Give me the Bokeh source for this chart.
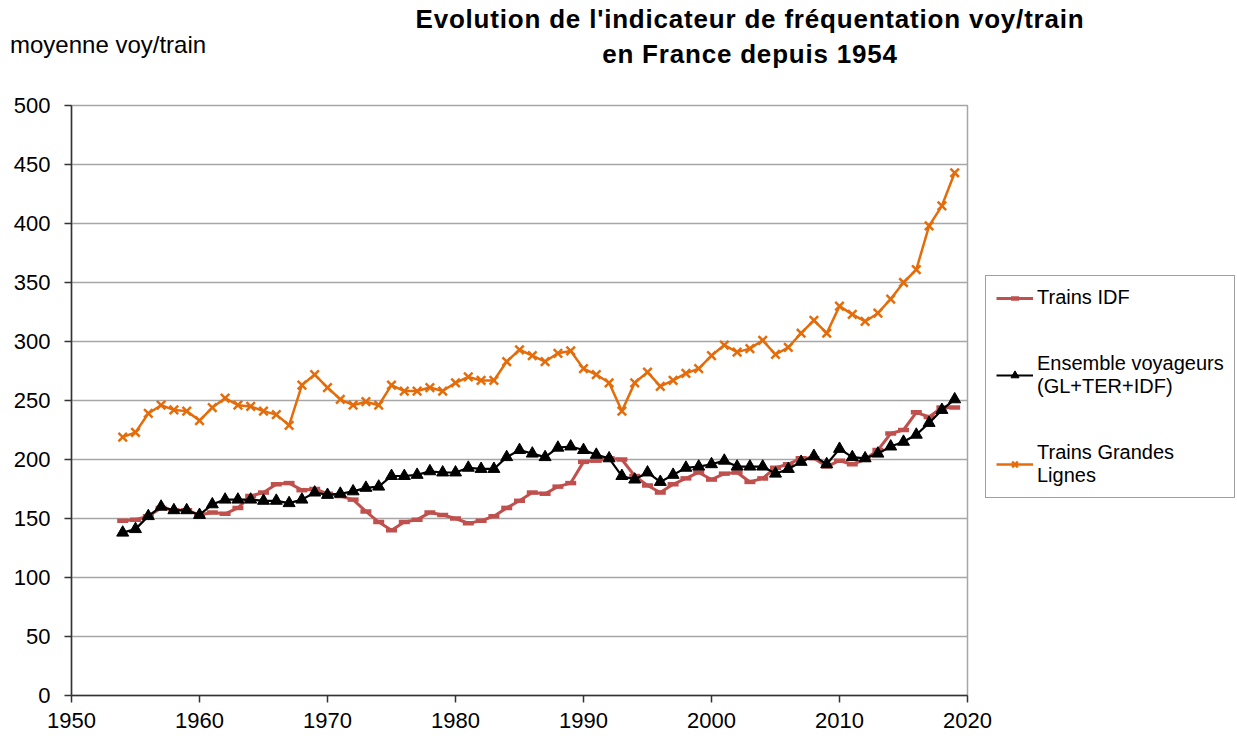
from bokeh.plotting import figure
from bokeh.models import Legend, LegendItem, FixedTicker, Range1d, Div
from bokeh.layouts import column
from bokeh.embed import file_html
from bokeh.resources import INLINE

years = list(range(1954, 2020))

trains_idf = [148, 149, 152, 159, 157, 157, 153, 155, 154, 159,
              169, 172, 179, 180, 174, 175, 171, 169, 166, 156,
              147, 140, 147, 149, 155, 153, 150, 146, 148, 152,
              159, 165, 172, 171, 177, 180, 198, 199, 201, 200,
              186, 178, 172, 179, 184, 189, 183, 188, 189, 181,
              184, 193, 196, 201, 201, 194, 199, 196, 200, 208,
              222, 225, 240, 236, 244, 244]

ensemble = [138, 141, 152, 160, 157, 157, 153, 162, 166, 166,
            166, 165, 165, 163, 166, 172, 170, 171, 173, 176,
            177, 186, 186, 187, 190, 189, 189, 193, 192, 192,
            202, 208, 205, 202, 210, 211, 208, 204, 201, 186,
            183, 189, 181, 187, 193, 194, 196, 199, 194, 194,
            194, 188, 192, 198, 203, 196, 209, 202, 201, 205,
            211, 215, 221, 231, 242, 251]

grandes_lignes = [219, 223, 239, 246, 242, 241, 233, 244, 252, 246,
                  245, 241, 238, 229, 263, 272, 261, 251, 246, 249,
                  246, 263, 258, 258, 261, 258, 265, 270, 267, 267,
                  283, 293, 288, 283, 290, 292, 277, 272, 265, 241,
                  265, 274, 262, 267, 273, 277, 288, 297, 291, 294,
                  301, 289, 295, 307, 318, 307, 330, 323, 317, 324,
                  336, 350, 361, 398, 415, 443]

x_ticks = [1950, 1960, 1970, 1980, 1990, 2000, 2010, 2020]
y_ticks = [0, 50, 100, 150, 200, 250, 300, 350, 400, 450, 500]

title_lines = ["Evolution de l'indicateur de fréquentation voy/train",
               "en France depuis 1954"]
y_label = "moyenne voy/train"
series_names = ["Trains IDF", "Ensemble voyageurs\n(GL+TER+IDF)", "Trains Grandes\nLignes"]

FONT = "Liberation Sans"
RED = "#C0504D"
BLACK = "#000000"
ORANGE = "#E46C0A"

W = 1233
HEADER_H = 90

# ---- header (title + y-axis caption) as real text ----
header_html = (
    f'<div style="position:relative;width:{W}px;height:{HEADER_H}px;'
    f'font-family:\'{FONT}\';color:black;overflow:visible;">'
    f'<div style="position:absolute;left:400px;top:2px;width:700px;text-align:center;'
    f'font-weight:bold;font-size:26px;line-height:35px;letter-spacing:0.8px;white-space:nowrap;">'
    f'{title_lines[0]}<br>{title_lines[1]}</div>'
    f'<div style="position:absolute;left:10px;top:31px;font-size:24px;line-height:28px;'
    f'white-space:nowrap;">{y_label}</div>'
    f'</div>'
)
header = Div(text=header_html, width=W, height=HEADER_H, margin=0)

# ---- main chart ----
p = figure(frame_width=896, frame_height=590,
           min_border_left=71, min_border_top=105 - HEADER_H, min_border_right=W - 71 - 896,
           min_border_bottom=38,
           x_range=Range1d(1950, 2020), y_range=Range1d(0, 500),
           output_backend="svg", toolbar_location=None, margin=0)

p.outline_line_color = "#A6A6A6"
p.outline_line_width = 1.5
p.xgrid.visible = False
p.ygrid.grid_line_color = "#A6A6A6"
p.ygrid.grid_line_width = 1.5

for ax in (p.xaxis[0], p.yaxis[0]):
    ax.axis_line_color = "#333333"
    ax.axis_line_width = 1.5
    ax.major_tick_line_color = "#333333"
    ax.major_tick_line_width = 1.5
    ax.major_tick_in = 0
    ax.major_tick_out = 7
    ax.minor_tick_line_color = None
    ax.major_label_text_font = FONT
    ax.major_label_text_font_size = "22px"
    ax.major_label_text_color = "black"

p.xaxis[0].ticker = FixedTicker(ticks=x_ticks)
p.yaxis[0].ticker = FixedTicker(ticks=y_ticks)
p.xaxis[0].major_label_standoff = 10
p.yaxis[0].major_label_standoff = 14

r1l = p.line(years, trains_idf, line_color=RED, line_width=3)
r1m = p.scatter(years, trains_idf, marker="dash", size=11, line_width=4.5, line_color=RED)
r2l = p.line(years, ensemble, line_color=BLACK, line_width=2.2)
r2m = p.scatter(years, ensemble, marker="triangle", size=12, fill_color=BLACK, line_color=BLACK)
r3l = p.line(years, grandes_lignes, line_color=ORANGE, line_width=2.5)
r3m = p.scatter(years, grandes_lignes, marker="x", size=12, line_width=2.5, line_color=ORANGE)

legend = Legend(items=[
    LegendItem(label=series_names[0], renderers=[r1l, r1m]),
    LegendItem(label=series_names[1], renderers=[r2l, r2m]),
    LegendItem(label=series_names[2], renderers=[r3l, r3m]),
], location=(18, 197))
legend.label_text_font = FONT
legend.label_text_font_size = "20px"
legend.label_text_color = "black"
legend.glyph_width = 37
legend.label_standoff = 4
legend.padding = 10
legend.spacing = 43
legend.margin = 0
legend.border_line_color = "#404040"
legend.border_line_width = 1.5
legend.background_fill_color = "white"
legend.background_fill_alpha = 1.0
p.add_layout(legend, "right")

layout = column(header, p, spacing=0)
open("out.html", "w").write(file_html(layout, INLINE))
